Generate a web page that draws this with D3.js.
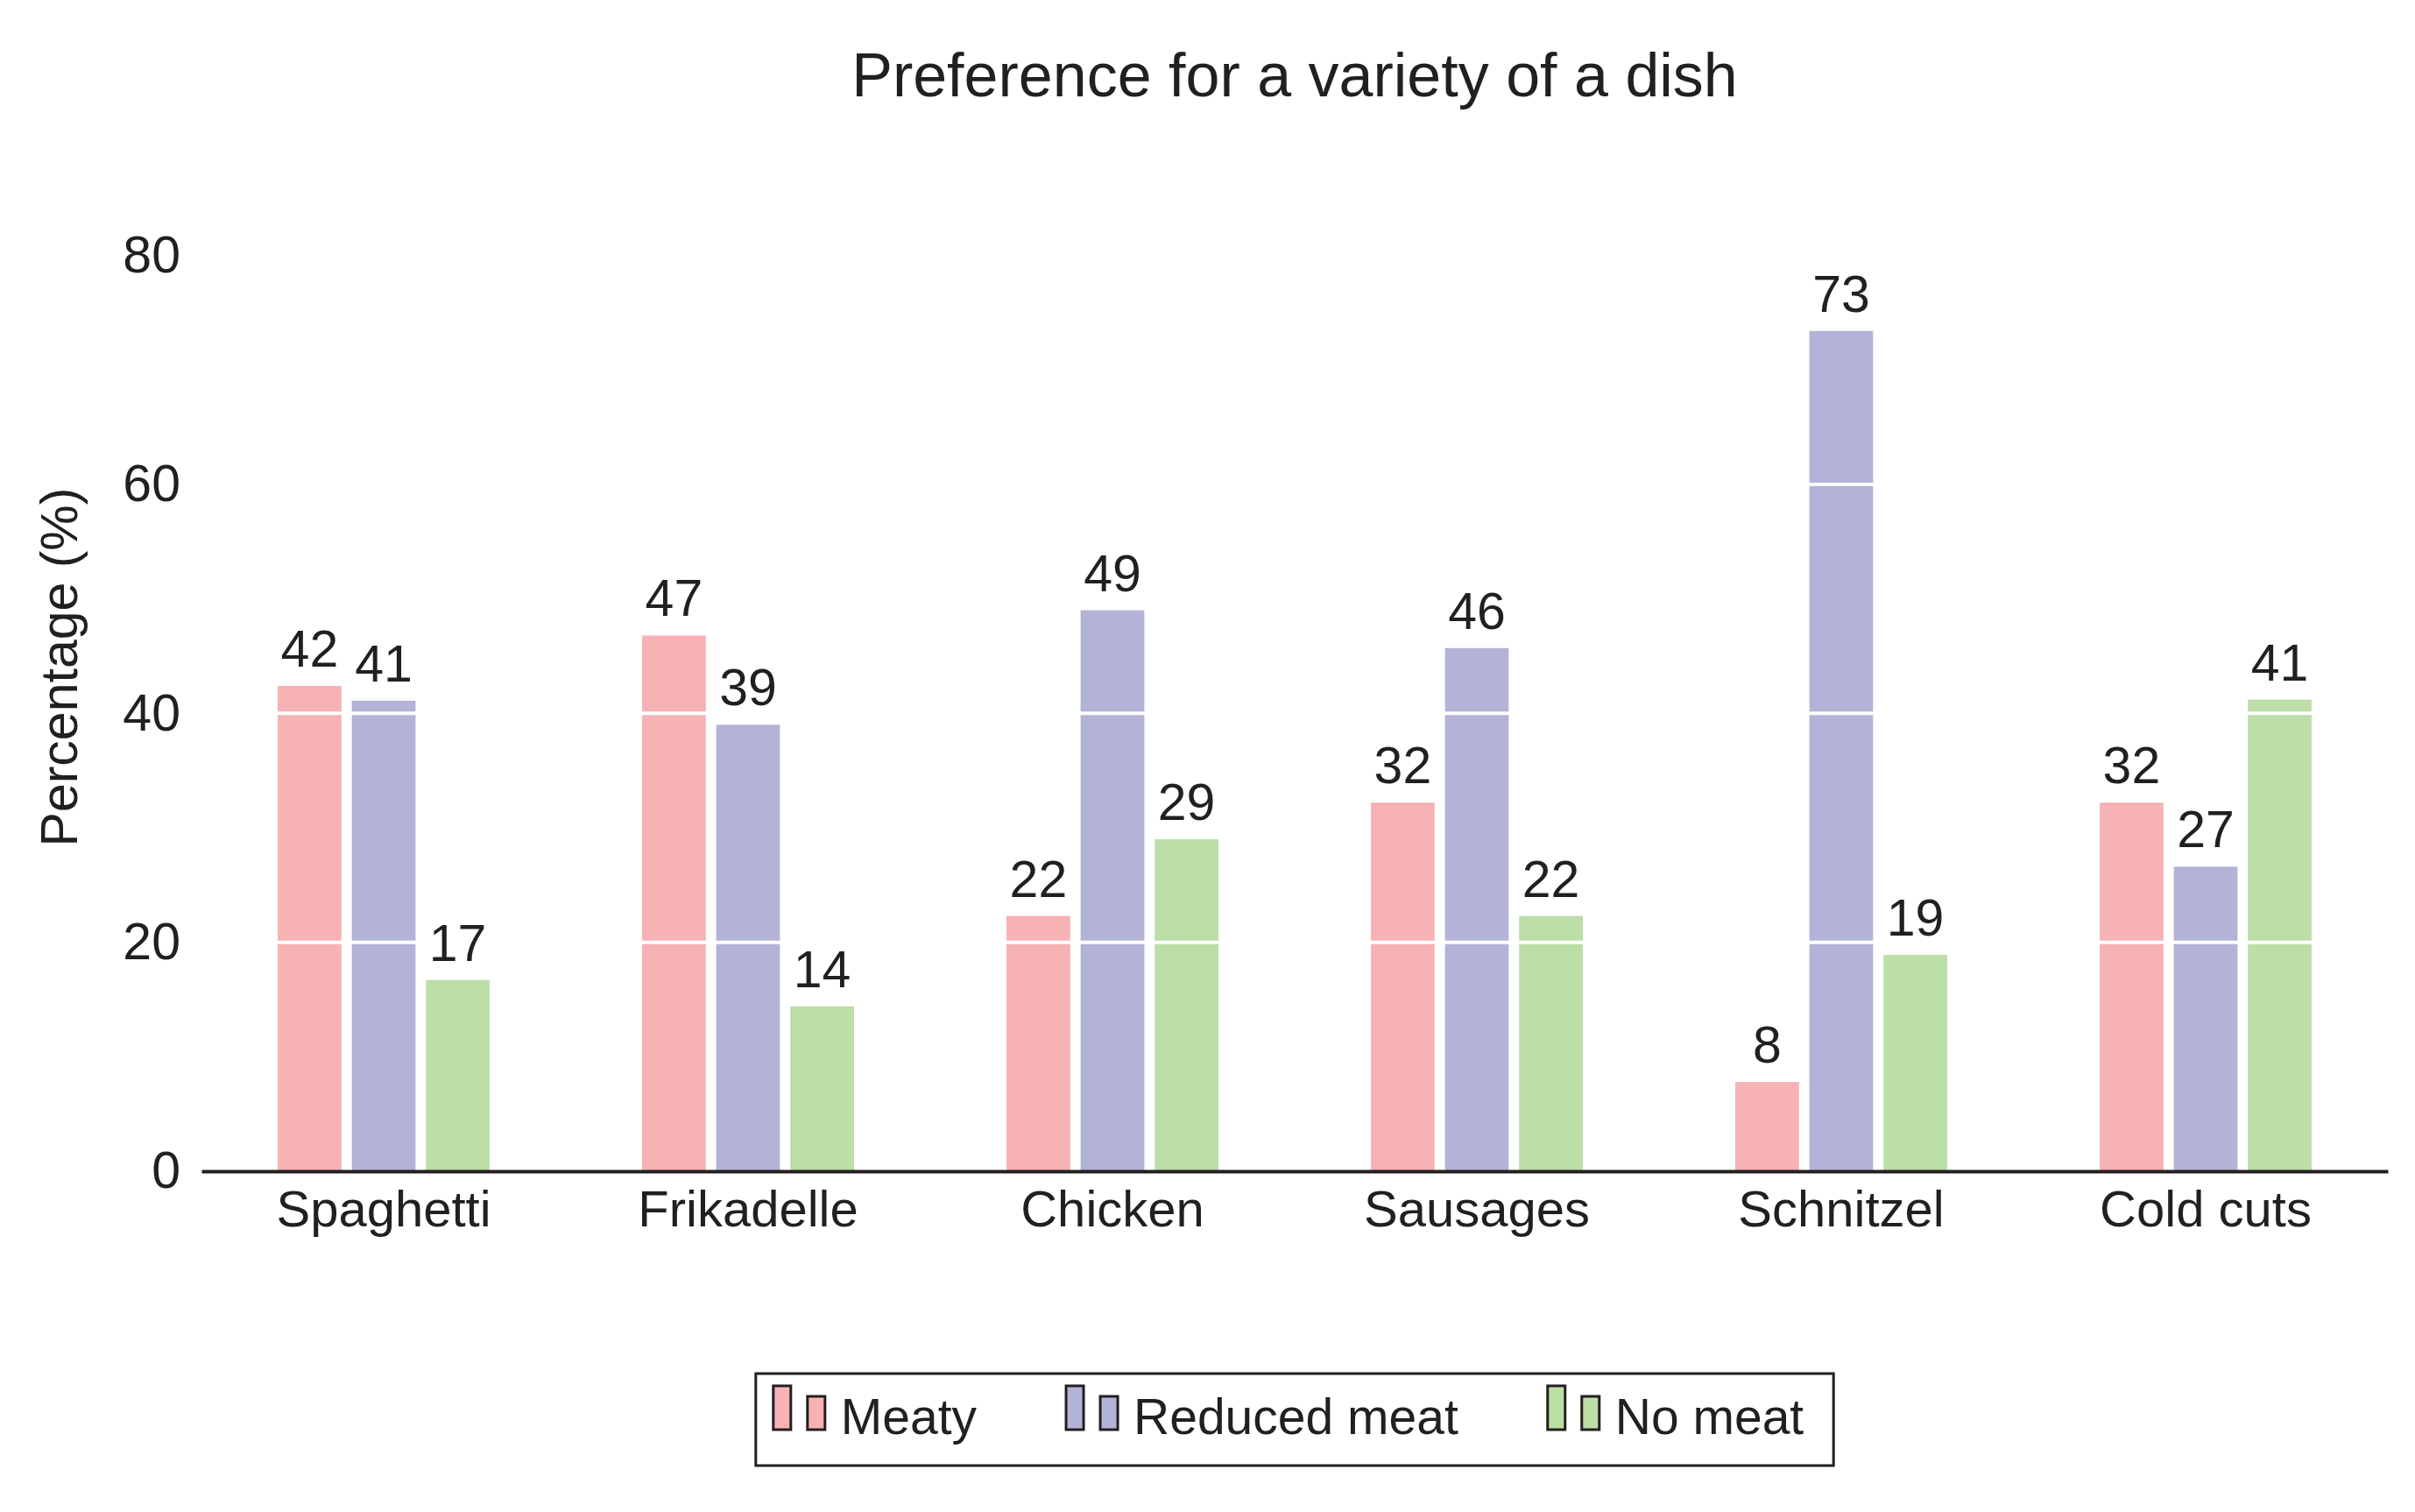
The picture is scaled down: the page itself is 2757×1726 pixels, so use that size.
<!DOCTYPE html>
<html>
<head>
<meta charset="utf-8">
<script src="https://cdn.jsdelivr.net/npm/d3@7"></script>
<style>
  body { margin: 0; background: #fff; }
  text { font-family: "Liberation Sans", Arial, sans-serif; fill: #231f20; }
</style>
</head>
<body>
<div id="chart"></div>
<script>
// Data
const categories = ["Spaghetti", "Frikadelle", "Chicken", "Sausages", "Schnitzel", "Cold cuts"];
const seriesNames = ["Meaty", "Reduced meat", "No meat"];
const meaty = [42.4, 46.8, 22.3, 32.2, 7.8, 32.2];
const reducedMeat = [41.1, 39.0, 49.0, 45.7, 73.4, 26.6];
const noMeat = [16.7, 14.4, 29.0, 22.3, 18.9, 41.2];
const yTicks = [0, 20, 40, 60, 80];
const colors = ["#f6b2b4", "#b3b2d7", "#bcdea7"];

const series = [meaty, reducedMeat, noMeat];
const ink = "#231f20";

// Dimensions
const W = 2757, H = 1726;
const margin = { left: 230, right: 31, top: 186, bottom: 389 };
const yMax = d3.max(series.flat()) * 1.2;

const svg = d3.select("#chart").append("svg")
    .attr("width", W)
    .attr("height", H);

// Scales
const x0 = d3.scaleBand()
    .domain(categories)
    .range([margin.left, W - margin.right])
    .paddingInner(0.39)
    .paddingOuter(0.195);

const x1 = d3.scaleBand()
    .domain(d3.range(seriesNames.length))
    .range([0, x0.bandwidth()])
    .paddingInner(0.14)
    .paddingOuter(0.07);

const y = d3.scaleLinear()
    .domain([0, yMax])
    .range([H - margin.bottom, margin.top]);

// flat list of bars
const cells = [];
categories.forEach((c, ci) => {
    series.forEach((s, si) => cells.push({ cat: c, si: si, v: s[ci] }));
});
const barX = d => x0(d.cat) + x1(d.si);

// Layers: bars, white grid, labels
const barLayer = svg.append("g");
const gridLayer = svg.append("g");
const labelLayer = svg.append("g");

// Title
svg.append("text")
    .attr("x", (margin.left + W - margin.right) / 2)
    .attr("y", 110)
    .attr("text-anchor", "middle")
    .style("font-size", "70px")
    .text("Preference for a variety of a dish");

// Bars
barLayer.selectAll("rect")
    .data(cells)
    .enter().append("rect")
    .attr("x", barX)
    .attr("y", d => y(d.v))
    .attr("width", x1.bandwidth())
    .attr("height", d => y(0) - y(d.v))
    .style("fill", d => colors[d.si]);

// White grid lines over the bars
gridLayer.selectAll("line")
    .data(yTicks.filter(t => t > 0))
    .enter().append("line")
    .attr("x1", margin.left)
    .attr("x2", W - margin.right)
    .attr("y1", d => y(d))
    .attr("y2", d => y(d))
    .style("stroke", "#fff")
    .style("stroke-width", 4);

// Value labels
labelLayer.selectAll("text")
    .data(cells)
    .enter().append("text")
    .attr("x", d => barX(d) + x1.bandwidth() / 2)
    .attr("y", d => y(d.v) - 22)
    .attr("text-anchor", "middle")
    .style("font-size", "59px")
    .text(d => Math.round(d.v));

// Y axis (labels only)
const yAxis = svg.append("g")
    .attr("transform", `translate(${margin.left},0)`)
    .call(d3.axisLeft(y).tickValues(yTicks).tickSize(0).tickPadding(24));
yAxis.select(".domain").remove();
yAxis.selectAll("text")
    .style("font-size", "59px")
    .style("font-family", "'Liberation Sans', Arial, sans-serif")
    .attr("fill", ink);

// X axis
const xAxis = svg.append("g")
    .attr("transform", `translate(0,${y(0)})`)
    .call(d3.axisBottom(x0).tickSize(0).tickPadding(22));
xAxis.select(".domain")
    .attr("stroke", ink)
    .attr("stroke-width", 4);
xAxis.selectAll("text")
    .style("font-size", "58px")
    .style("font-family", "'Liberation Sans', Arial, sans-serif")
    .attr("fill", ink);

// Y label
svg.append("text")
    .attr("transform", `translate(88,${(y(0) + y(yMax)) / 2}) rotate(-90)`)
    .attr("text-anchor", "middle")
    .style("font-size", "59px")
    .text("Percentage (%)");

// Legend
const legend = svg.append("g");
const box = legend.append("rect")
    .attr("y", 1568)
    .attr("height", 105)
    .style("fill", "#fff")
    .style("stroke", ink)
    .style("stroke-width", 3);

let cursor = 0;
seriesNames.forEach((name, i) => {
    legend.append("rect")
        .attr("x", cursor).attr("y", 1582)
        .attr("width", 20).attr("height", 50)
        .style("fill", colors[i]).style("stroke", ink).style("stroke-width", 3);
    legend.append("rect")
        .attr("x", cursor + 39).attr("y", 1594)
        .attr("width", 20).attr("height", 38)
        .style("fill", colors[i]).style("stroke", ink).style("stroke-width", 3);
    const t = legend.append("text")
        .attr("x", cursor + 77)
        .attr("y", 1637)
        .style("font-size", "57px")
        .text(name);
    const w = t.node().getComputedTextLength();
    cursor += 77 + w + (i < seriesNames.length - 1 ? 102 : 0);
});
box.attr("x", -20).attr("width", cursor + 54);
const legendCenter = (margin.left + W - margin.right) / 2;
legend.attr("transform", `translate(${legendCenter - (cursor + 14) / 2},0)`);
</script>
</body>
</html>
